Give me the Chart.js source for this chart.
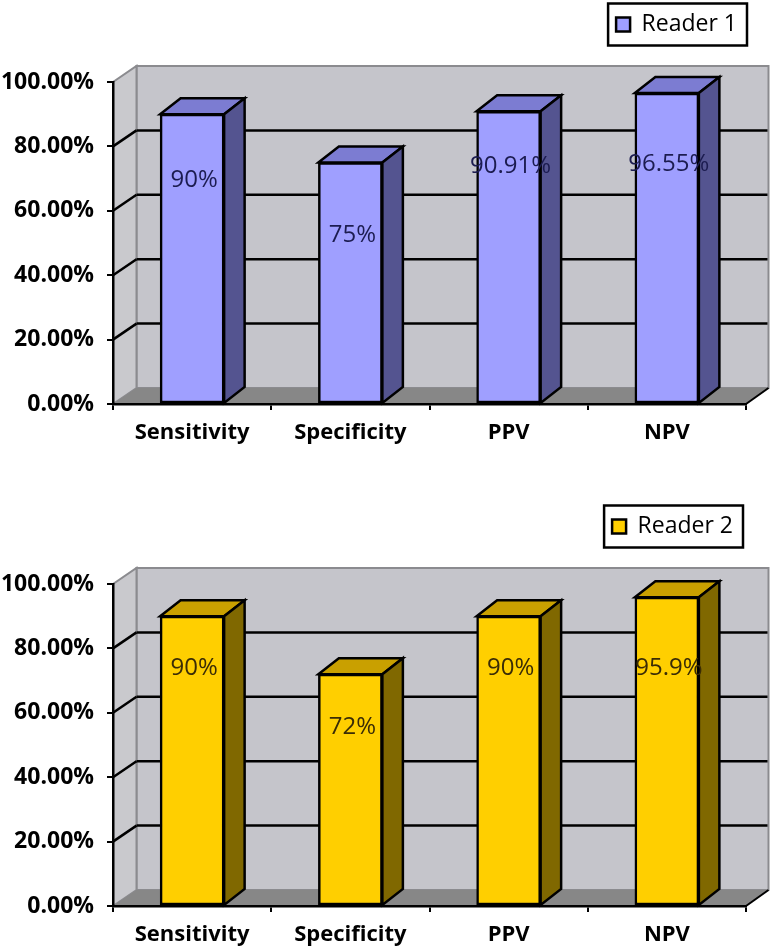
<!DOCTYPE html>
<html>
<head>
<meta charset="utf-8">
<style>
  html, body { margin: 0; padding: 0; background: #fff; overflow: hidden; }
  canvas { position: absolute; left: 0; filter: blur(0.4px); }
</style>
<script src="https://cdn.jsdelivr.net/npm/chart.js@4"></script>
</head>
<body>
<canvas id="reader1" width="771" height="445" style="top:0"></canvas>
<canvas id="reader2" width="771" height="445" style="top:502px"></canvas>
<script>
'use strict';

const categories = ['Sensitivity', 'Specificity', 'PPV', 'NPV'];
const reader1Values = [90, 75, 90.91, 96.55];
const reader2Values = [90, 72, 90, 95.9];
const reader1Texts = ['90%', '75%', '90.91%', '96.55%'];
const reader2Texts = ['90%', '72%', '90%', '95.9%'];
// height on the value axis where each bar's text sits
const reader1TextAt = [69.5, 52.5, 74, 74.5];
const reader2TextAt = [74, 55.5, 74, 74];

const FONT = '"Open Sans", sans-serif';

function poly(ctx, pts, fill, stroke, lw) {
  ctx.beginPath();
  pts.forEach((p, i) => i ? ctx.lineTo(p[0], p[1]) : ctx.moveTo(p[0], p[1]));
  ctx.closePath();
  if (fill) { ctx.fillStyle = fill; ctx.fill(); }
  if (stroke) { ctx.strokeStyle = stroke; ctx.lineWidth = lw; ctx.stroke(); }
}

function line(ctx, x1, y1, x2, y2, color, lw) {
  ctx.beginPath();
  ctx.moveTo(x1, y1);
  ctx.lineTo(x2, y2);
  ctx.strokeStyle = color;
  ctx.lineWidth = lw;
  ctx.stroke();
}

// the fake 3D box behind the bars, and the top and side of every bar
const box3d = {
  id: 'box3d',
  beforeInit(chart) {
    // leaves room between the legend and the plot
    const fit = chart.legend.fit;
    chart.legend.fit = function () {
      fit.call(this);
      this.height = 82;
    };
  },
  afterLayout(chart, args, opts) {
    chart.legend.right -= opts.legendShift;
    chart.legend.legendHitBoxes[0].left -= opts.legendShift;
  },
  beforeDraw(chart) {
    const ctx = chart.ctx;
    const y = chart.scales.y;
    const l = chart.chartArea.left, r = chart.chartArea.right;
    const t = y.getPixelForValue(100), b = y.getPixelForValue(0);
    const dx = 23.5, dy = 16;
    ctx.save();
    poly(ctx, [[l + dx, t - dy], [r + dx - 1, t - dy], [r + dx - 1, b - dy], [l + dx, b - dy]], '#c5c5cb', '#8b8b8f', 2);
    poly(ctx, [[l, t], [l + dx, t - dy], [l + dx, b - dy], [l, b]], '#c9c9cd', '#8b8b8f', 2);
    poly(ctx, [[l, b], [l + dx, b - dy], [r + dx - 1, b - dy], [r, b]], '#878787');
    y.ticks.forEach(tick => {
      if (tick.value === 0 || tick.value === 100) return;
      const py = y.getPixelForValue(tick.value);
      line(ctx, l, py, l + dx, py - dy, '#000', 2.5);
      line(ctx, l + dx, py - dy, r + dx - 2, py - dy, '#000', 2.5);
    });
    line(ctx, r, b, r + dx - 1, b - dy, '#000', 2);
    ctx.restore();
  },
  afterDatasetsDraw(chart, args, opts) {
    const ctx = chart.ctx;
    const y = chart.scales.y;
    const dx = 20.5, dy = 16;
    ctx.save();
    ctx.lineJoin = 'miter';
    chart.getDatasetMeta(0).data.forEach(bar => {
      const x1 = bar.x - bar.width / 2, x2 = bar.x + bar.width / 2;
      poly(ctx, [[x1, bar.y], [x1 + dx, bar.y - dy], [x2 + dx, bar.y - dy], [x2, bar.y]], opts.top, '#000', 2.5);
      poly(ctx, [[x2, bar.y], [x2 + dx, bar.y - dy], [x2 + dx, bar.base - dy], [x2, bar.base]], opts.side, '#000', 2.5);
    });
    ctx.fillStyle = opts.textColor;
    ctx.font = '500 24px ' + FONT;
    ctx.textAlign = 'center';
    ctx.textBaseline = 'middle';
    chart.getDatasetMeta(0).data.forEach((bar, i) => {
      ctx.fillText(opts.texts[i], bar.x + 2, y.getPixelForValue(opts.textAt[i]));
    });
    ctx.restore();
  },
  afterDraw(chart) {
    const hit = chart.legend.legendHitBoxes[0];
    const ctx = chart.ctx;
    ctx.save();
    ctx.strokeStyle = '#000';
    ctx.lineWidth = 2.5;
    ctx.strokeRect(hit.left - 8, 3.5, hit.width + 18, 42);
    ctx.restore();
  }
};

function makeChart(id, label, values, texts, textAt, colors, legendShift) {
  return new Chart(document.getElementById(id), {
    type: 'bar',
    data: {
      labels: categories,
      datasets: [{
        label: label,
        data: values,
        backgroundColor: colors.front,
        borderColor: '#000',
        borderWidth: 2.5,
        borderSkipped: false,
        barThickness: 64
      }]
    },
    plugins: [box3d],
    options: {
      responsive: false,
      animation: false,
      layout: { padding: { top: 0, right: 25, left: 0, bottom: 0 } },
      plugins: {
        tooltip: { enabled: false },
        legend: {
          position: 'top',
          align: 'end',
          labels: {
            color: '#000',
            font: { family: FONT, size: 23 },
            boxWidth: 14,
            boxHeight: 14,
            padding: 13
          }
        },
        box3d: {
          top: colors.top,
          side: colors.side,
          textColor: colors.text,
          texts: texts,
          textAt: textAt,
          legendShift: legendShift
        }
      },
      scales: {
        x: {
          afterFit(scale) { scale.height = 41; },
          grid: { drawOnChartArea: false, color: '#000', lineWidth: 2, tickLength: 6, offset: true },
          border: { color: '#000', width: 2.5 },
          ticks: {
            color: '#000',
            font: { family: FONT, size: 22, weight: 'bold' },
            maxRotation: 0,
            autoSkip: false,
            padding: 10
          }
        },
        y: {
          min: 0,
          max: 100,
          afterFit(scale) { scale.width = 113; },
          grid: { drawOnChartArea: false, color: '#000', lineWidth: 2, tickLength: 6 },
          border: { color: '#000', width: 2.5 },
          ticks: {
            stepSize: 20,
            color: '#000',
            font: { family: FONT, size: 23, weight: 'bold' },
            padding: 13,
            callback: v => v.toFixed(2) + '%'
          }
        }
      }
    }
  });
}

makeChart('reader1', 'Reader 1', reader1Values, reader1Texts, reader1TextAt,
  { front: '#9f9fff', top: '#7c7cd2', side: '#545490', text: '#1c1c50' }, -4);
makeChart('reader2', 'Reader 2', reader2Values, reader2Texts, reader2TextAt,
  { front: '#ffcf00', top: '#c9a000', side: '#806800', text: '#3a2c06' }, 0);
</script>
</body>
</html>
